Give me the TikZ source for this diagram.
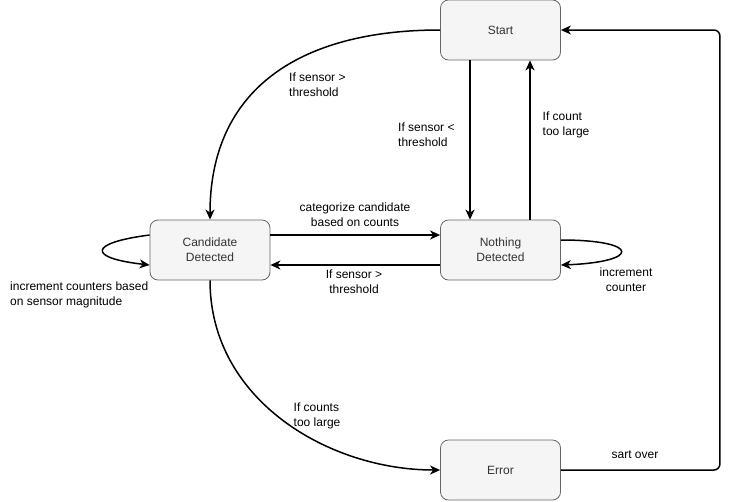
\documentclass[tikz,border=0pt]{standalone}
\usepackage{fontspec}
\setmainfont{Liberation Sans}
\usetikzlibrary{arrows.meta}
\definecolor{boxfill}{HTML}{F5F5F5}
\definecolor{boxline}{HTML}{666666}
\definecolor{boxtext}{HTML}{333333}
\begin{document}
\begin{tikzpicture}[x=1pt,y=-1pt,
  state/.style={draw=boxline, fill=boxfill, rounded corners=8pt, minimum width=120pt, minimum height=60pt, inner sep=0pt, align=center, text=boxtext, font=\fontsize{12}{15}\selectfont, line width=0.8pt},
  lbl/.style={font=\fontsize{12}{15}\selectfont, inner sep=0pt, text=black},
  conn/.style={line width=1.5pt, -{Stealth[length=10pt,width=9pt,inset=3pt]}}]
\useasboundingbox (0,0) rectangle (730,501);
\node[state] (start) at (500.5,30) {Start};
\node[state] (cand) at (210,250) {Candidate\\Detected};
\node[state] (noth) at (500.5,250) {Nothing\\Detected};
\node[state] (err) at (500.5,470) {Error};

% edges
\draw[conn] (start.west) .. controls +(-141,0) and +(0,-130) .. (cand.north);
\draw[conn] ([xshift=-30.5pt]start.south) -- ([xshift=-30.5pt]noth.north);
\draw[conn] ([xshift=29.5pt]noth.north) -- ([xshift=29.5pt]start.south);
\draw[conn] ([yshift=15pt]cand.east) -- ([yshift=15pt]noth.west);
\draw[conn] ([yshift=-15pt]noth.west) -- ([yshift=-15pt]cand.east);
\draw[conn] ([yshift=15pt]cand.west) .. controls +(-62,8) and +(-62,-7) .. ([yshift=-15pt]cand.west);
\draw[conn] ([yshift=10pt]noth.east) .. controls +(80,0) and +(80,-3) .. ([yshift=-15pt]noth.east);
\draw[conn] (cand.south) .. controls +(0,120) and +(-111,0) .. (err.west);
\draw[conn, rounded corners=6pt] (err.east) -- ++(159,0) |- (start.east);

% labels
\node[lbl, anchor=west, align=left] (l1) at (289,84.5) {If sensor >\\threshold};
\node[lbl, anchor=west, align=left] (l2) at (398,134.5) {If sensor <\\threshold};
\node[lbl, anchor=west, align=left] (l3) at (542.5,124.5) {If count\\too large};
\node[lbl, align=center] (l4) at (355,215) {categorize candidate\\based on counts};
\node[lbl, align=center] (l5) at (354,282) {If sensor >\\threshold};
\node[lbl, align=center] (l6) at (626,279.5) {increment\\counter};
\node[lbl, anchor=west, align=left] (l7) at (10,294.5) {increment counters based\\on sensor magnitude};
\node[lbl, anchor=west, align=left] (l8) at (293.5,415.5) {If counts\\too large};
\node[lbl, align=center] (l9) at (635,455) {sart over};
\end{tikzpicture}
\end{document}
